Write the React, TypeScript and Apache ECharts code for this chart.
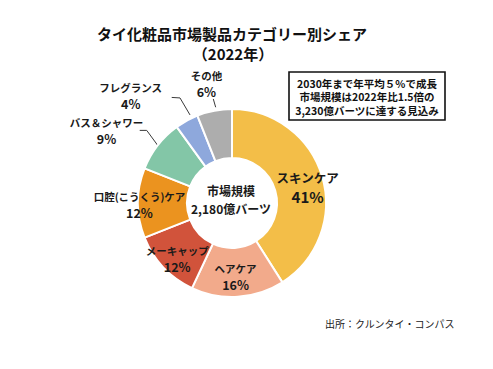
import React, { useEffect, useRef } from "react";
import * as echarts from "echarts";

const categories = ["スキンケア", "ヘアケア", "メーキャップ", "口腔(こうくう)ケア", "バス＆シャワー", "フレグランス", "その他"];
const shares = [41, 16, 12, 12, 9, 4, 6];
const colors = ["#F3BE48", "#F2AA8B", "#D1533B", "#EB931F", "#83C6A7", "#8EA8DC", "#ADADAD"];
const outsideNames = ["バス＆シャワー", "フレグランス", "その他"];

const titleText = "タイ化粧品市場製品カテゴリー別シェア";
const subTitleText = "（2022年）";
const centerText = "市場規模\n2,180億バーツ";
const noteLines = ["2030年まで年平均５%で成長", "市場規模は2022年比1.5倍の", "3,230億バーツに達する見込み"];
const sourceText = "出所：クルンタイ・コンパス";

const FONT = "'Noto Sans CJK JP', 'Noto Sans', sans-serif";

export default function App() {
  const ref = useRef<HTMLDivElement>(null);
  useEffect(() => {
    if (!ref.current) return;
    const chart = echarts.init(ref.current, undefined, { renderer: "svg" });
    const data = categories.map((name, i) => {
      const outside = outsideNames.includes(name);
      const big = i === 0;
      return {
        name,
        value: shares[i],
        itemStyle: { color: colors[i] },
        label: {
          position: outside ? "outside" : "inside",
          rich: big
            ? {
                n: { fontSize: 12.5, fontWeight: "bold", color: "#1a1a1a", fontFamily: FONT, lineHeight: 19 },
                p: { fontSize: 15, fontWeight: "bold", color: "#1a1a1a", fontFamily: FONT, lineHeight: 19 },
              }
            : undefined,
        },
        labelLine: outside
          ? { show: true, length: 14, length2: 6, lineStyle: { color: "#3a3a3a", width: 1 } }
          : { show: false },
      };
    });
    chart.setOption({
      animation: false,
      textStyle: { fontFamily: FONT },
      graphic: [
        {
          type: "text",
          x: 232,
          y: 33,
          style: { text: titleText, fill: "#111", font: `bold 15px ${FONT}`, textAlign: "center", textVerticalAlign: "middle" },
        },
        {
          type: "text",
          x: 233,
          y: 53,
          style: { text: subTitleText, fill: "#111", font: `bold 15px ${FONT}`, textAlign: "center", textVerticalAlign: "middle" },
        },
        {
          type: "rect",
          shape: { x: 289, y: 72, width: 156, height: 48 },
          style: { fill: "#fff", stroke: "#111", lineWidth: 1.6 },
        },
        ...noteLines.map((t, i) => ({
          type: "text",
          x: 367,
          y: 83 + i * 13.5,
          style: { text: t, fill: "#111", font: `bold 10.5px ${FONT}`, textAlign: "center", textVerticalAlign: "middle" },
        })),
        {
          type: "text",
          x: 231,
          y: 199,
          style: { text: centerText, fill: "#1a1a1a", font: `bold 12px ${FONT}`, lineHeight: 18, textAlign: "center", textVerticalAlign: "middle" },
        },
        {
          type: "text",
          x: 325,
          y: 323,
          style: { text: sourceText, fill: "#222", font: `10px ${FONT}`, textAlign: "left", textVerticalAlign: "middle" },
        },
      ],
      series: [
        {
          type: "pie",
          center: [232, 203],
          radius: [45, 94],
          startAngle: 90,
          clockwise: true,
          avoidLabelOverlap: false,
          itemStyle: { borderColor: "#fff", borderWidth: 2 },
          label: {
            show: true,
            formatter: "{n|{b}}\n{p|{c}%}",
            distanceToLabelLine: 0,
            rich: {
              n: { fontSize: 10.5, fontWeight: "bold", color: "#1a1a1a", fontFamily: FONT, lineHeight: 16 },
              p: { fontSize: 12.5, fontWeight: "bold", color: "#1a1a1a", fontFamily: FONT, lineHeight: 16 },
            },
          },
          labelLayout: (p: any) => {
            const r = p.labelRect;
            const cx = r.x + r.width / 2;
            const cy = r.y + r.height / 2;
            const name = categories[p.dataIndex];
            if (name === "スキンケア") return { x: cx + 6, y: cy + 4, align: "center", verticalAlign: "middle" };
            if (name === "口腔(こうくう)ケア") return { x: cx - 20, y: cy + 1, align: "center", verticalAlign: "middle" };
            if (name === "メーキャップ") return { x: cx - 2, y: cy + 5, align: "center", verticalAlign: "middle" };
            if (name === "ヘアケア") return { x: cx - 1, y: cy + 1, align: "center", verticalAlign: "middle" };
            const lp = p.labelLinePoints;
            if (!lp) return {};
            const [ex, ey] = lp[0];
            if (name === "その他") {
              return {
                x: ex - 8,
                y: ey - 27,
                align: "center",
                verticalAlign: "middle",
                labelLinePoints: [
                  [ex + 1.3, ey - 3.4],
                  [ex - 1.1, ey - 11.7],
                ],
              };
            }
            if (name === "フレグランス") {
              const p1 = [ex - 6.7, ey - 22.7];
              const p2 = [p1[0] - 8.3, p1[1] - 0.5];
              return {
                x: p2[0] - 9.5 - r.width / 2,
                y: p2[1] - 2,
                align: "center",
                verticalAlign: "middle",
                labelLinePoints: [[ex + 3.3, ey - 5.7], p1, p2],
              };
            }
            // バス＆シャワー
            const p1 = [ex - 11, ey - 15];
            const p2 = [p1[0] - 7, p1[1]];
            return {
              x: p2[0] + 3.5 - r.width / 2,
              y: p2[1] + 0.5,
              align: "center",
              verticalAlign: "middle",
              labelLinePoints: [[ex, ey], p1, p2],
            };
          },
          data,
        },
      ],
    });
    return () => chart.dispose();
  }, []);
  return <div ref={ref} style={{ position: "absolute", left: 0, top: 0, width: 493, height: 369 }} />;
}
